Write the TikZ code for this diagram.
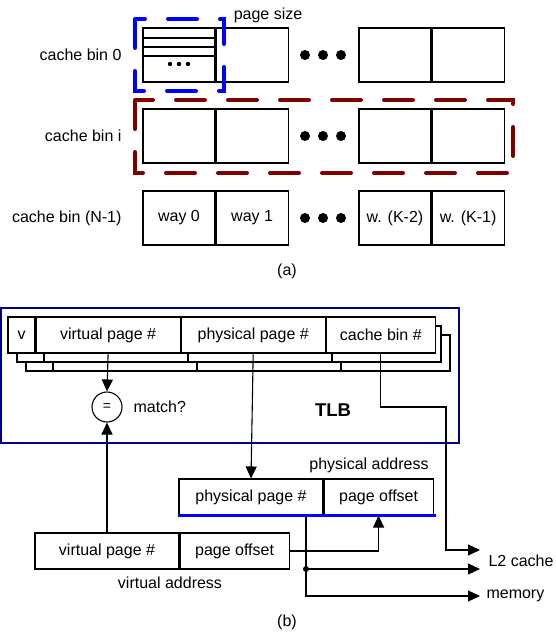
\documentclass[tikz,border=0pt]{standalone}
\usepackage{fontspec}
\setmainfont{Liberation Sans}
\usetikzlibrary{positioning,arrows.meta}
\definecolor{binred}{RGB}{128,0,0}
\definecolor{tlbblue}{RGB}{0,0,128}

\begin{document}
\begin{tikzpicture}[x=1pt,y=-1pt,every node/.style={font=\fontsize{16}{19}\selectfont},
  cell/.style={draw,line width=1.1pt,minimum width=72pt,minimum height=54pt,inner sep=0pt},
  fld/.style={draw,fill=white,line width=1.1pt,minimum height=36pt,inner sep=0pt},
  arr/.style={line width=1.1pt,-{Triangle[length=12pt,width=11pt]}},
  bindash/.style={line width=4pt,line cap=round,dash pattern=on 29pt off 23pt}]
\useasboundingbox (0,0) rectangle (555,634);
% (a) cache bins
\foreach \r/\y/\lab/\ta/\tb/\tc/\td in {0/55/cache bin 0/{}/{}/{}/{},i/136/cache bin i/{}/{}/{}/{},N/218/cache bin (N-1)/way 0/way 1/w. (K-2)/w. (K-1)} {
  \node[anchor=east] (lab\r) at (125,\y) {\lab};
  \node[cell] (b\r0) at (179,\y) {\ta}; \node[cell,right=0pt of b\r0] (b\r1) {\tb};
  \node[cell] (b\r2) at (395,\y) {\tc}; \node[cell,right=0pt of b\r2] (b\r3) {\td};
  \foreach \x in {305,323,341} \fill (\x,\y) circle[radius=5pt];
}
\foreach \yy in {38,47,56} \draw[line width=1.1pt] (b00.west |- 0,\yy) -- (b00.east |- 0,\yy);
\foreach \x in {170,179,188} \fill (\x,64) circle[radius=2.2pt];
\node (psize) at (268,15) {page size};
\draw[bindash,blue] (135,19) rectangle (224,91);
\draw[bindash,binred] (135,100) rectangle (513,173);
\node (capa) at (287,271) {(a)};
% (b) TLB
\draw[tlbblue,line width=2.5pt] (1,308) rectangle (459,443);
\foreach \d in {18,9} {
  \draw[fill=white,line width=1.1pt] (8+\d,317+\d) rectangle (432+\d,353+\d);
  \foreach \x in {35,179,323} \draw[line width=1.1pt] (\x+\d,317+\d) -- (\x+\d,353+\d);
}
\node[fld,minimum width=27pt] (ev) at (21.5,335) {v};
\node[fld,minimum width=144pt,right=0pt of ev] (evpn) {virtual page \#};
\node[fld,minimum width=144pt,right=0pt of evpn] (eppn) {physical page \#};
\node[fld,minimum width=109pt,right=0pt of eppn] (ecb) {cache bin \#};
\node[draw,circle,line width=1.1pt,minimum size=30pt,inner sep=0pt,font=\fontsize{14}{16}\selectfont] (eq) at (107,407) {=};
\node[anchor=west] (match) at (130,407) {match?};
\node[font=\fontsize{18.5}{22}\selectfont\bfseries] (tlb) at (333,410) {TLB};
% addresses
\node[fld,minimum width=144pt] (pppn) at (251,497) {physical page \#};
\node[fld,minimum width=109pt,right=0pt of pppn] (ppo) {page offset};
\node (paddr) at (369,465) {physical address};
\node[fld,minimum width=144pt] (vvpn) at (107,551) {virtual page \#};
\node[fld,minimum width=109pt,right=0pt of vvpn] (vpo) {page offset};
\node (vaddr) at (170,583) {virtual address};
\coordinate (bend) at (446,407); \coordinate (l2a) at (480,550); \coordinate (l2b) at (480,569); \coordinate (mem) at (480,596);
\coordinate (tap) at (306,515); \coordinate (jn) at (306,569);
\draw[arr] (evpn.south) -- (eq.north); \draw[arr] (vvpn.north) -- (eq.south);
\draw[arr] (eppn.south) -- (pppn.north);
\draw[arr] (ecb.south) |- (bend) |- (l2a);
\draw[arr] (vpo.east) -| (ppo.south);
\draw[arr] (tap) |- (mem); \draw[arr] (jn) -- (l2b); \fill (jn) circle[radius=3pt];
\draw[blue,line width=3.5pt] (pppn.south west) -- ([xshift=2pt]ppo.south east);
\node[anchor=west] (l2) at (485,561) {L2 cache}; \node[anchor=west] (memlab) at (483,596) {memory};
\node (capb) at (287,622) {(b)};
\end{tikzpicture}
\end{document}
